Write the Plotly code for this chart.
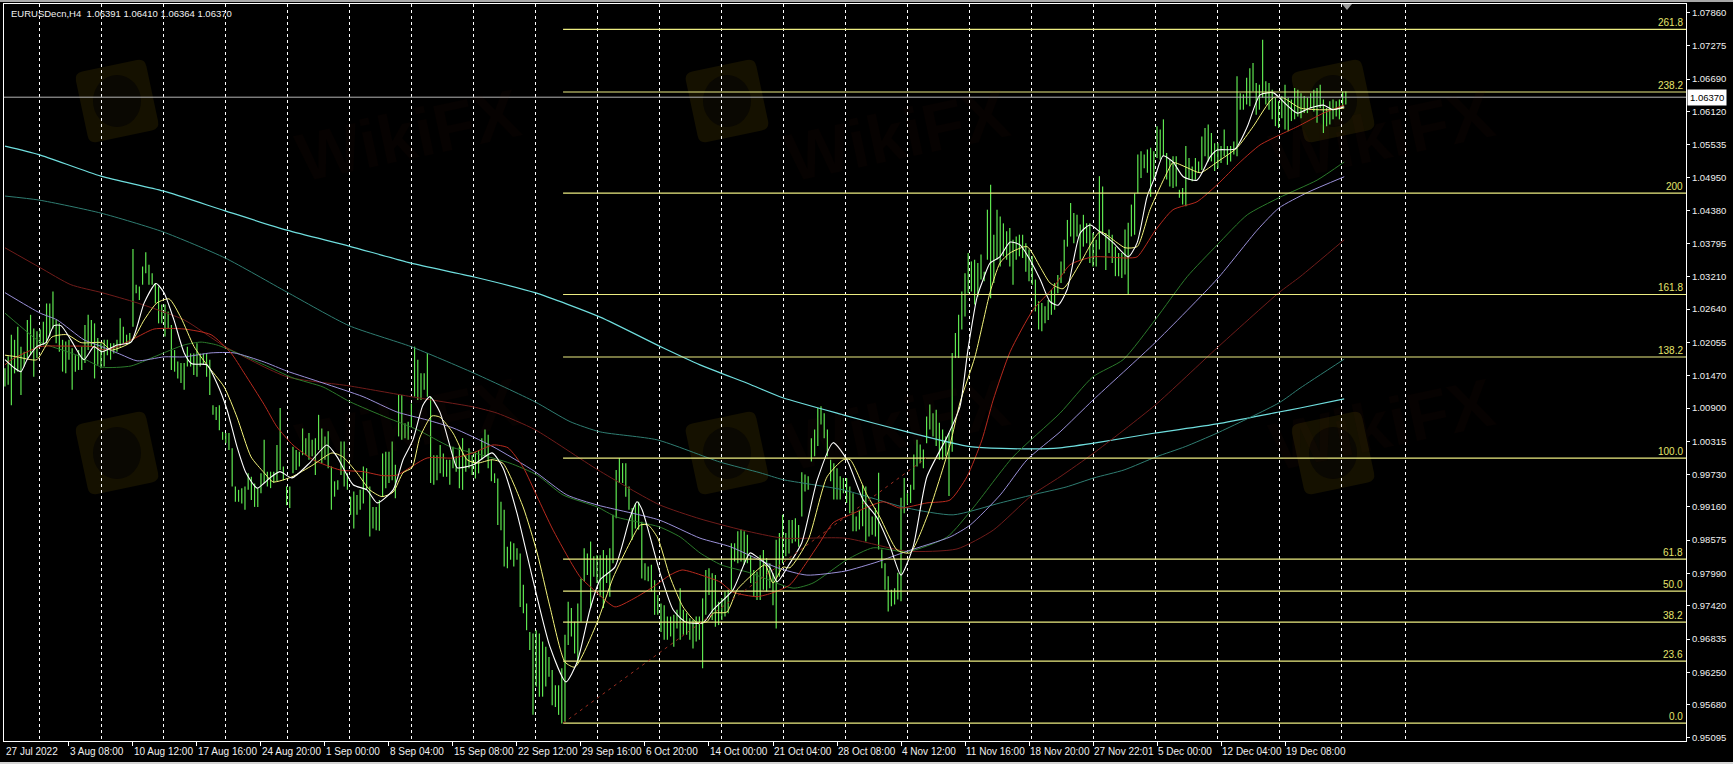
import math
import plotly.graph_objects as go

# EURUSDecn H4 bars
highs = [
    1.0160,1.0181,1.0219,1.0210,1.0233,1.0198,1.0189,1.0245,1.0254,1.0230,
    1.0225,1.0228,1.0242,1.0274,1.0274,1.0295,1.0245,1.0239,1.0210,1.0207,
    1.0210,1.0195,1.0183,1.0192,1.0198,1.0236,1.0254,1.0245,1.0239,1.0213,
    1.0204,1.0210,1.0210,1.0204,1.0204,1.0210,1.0248,1.0233,1.0219,1.0222,
    1.0370,1.0307,1.0304,1.0339,1.0364,1.0342,1.0327,1.0310,1.0304,1.0272,
    1.0272,1.0260,1.0236,1.0192,1.0172,1.0169,1.0169,1.0198,1.0186,1.0186,
    1.0204,1.0186,1.0186,1.0186,1.0175,1.0095,1.0092,1.0095,1.0048,1.0046,
    1.0046,1.0019,0.9952,0.9946,0.9949,0.9952,0.9975,0.9969,0.9957,0.9949,
    0.9975,1.0034,0.9978,0.9978,0.9978,1.0025,1.0090,0.9987,0.9952,0.9952,
    1.0022,1.0016,1.0013,1.0054,1.0037,1.0046,1.0034,1.0037,1.0078,1.0054,
    1.0040,1.0049,0.9987,0.9961,0.9963,1.0031,1.0031,0.9975,0.9934,0.9943,
    0.9937,0.9946,0.9987,0.9984,0.9952,0.9916,0.9916,0.9928,1.0010,1.0013,
    1.0013,1.0031,0.9990,1.0113,1.0113,1.0063,1.0066,1.0098,1.0198,1.0175,
    1.0151,1.0151,1.0187,1.0110,1.0007,1.0007,1.0025,1.0010,0.9999,0.9999,
    1.0022,1.0005,1.0022,1.0037,1.0007,1.0019,1.0007,1.0013,1.0016,1.0037,
    1.0052,1.0043,0.9999,0.9975,0.9966,0.9925,0.9911,0.9846,0.9855,0.9852,
    0.9843,0.9834,0.9779,0.9746,0.9696,0.9693,0.9699,0.9693,0.9679,0.9670,
    0.9652,0.9629,0.9602,0.9602,0.9632,0.9691,0.9749,0.9738,0.9714,0.9746,
    0.9790,0.9843,0.9834,0.9855,0.9829,0.9831,0.9831,0.9840,0.9831,0.9843,
    0.9902,0.9981,1.0002,0.9993,0.9993,0.9952,0.9914,0.9922,0.9925,0.9890,
    0.9817,0.9811,0.9814,0.9787,0.9761,0.9746,0.9743,0.9723,0.9723,0.9726,
    0.9735,0.9773,0.9735,0.9729,0.9720,0.9717,0.9723,0.9723,0.9755,0.9805,
    0.9808,0.9799,0.9796,0.9749,0.9755,0.9767,0.9770,0.9852,0.9852,0.9873,
    0.9876,0.9873,0.9867,0.9831,0.9805,0.9802,0.9831,0.9840,0.9826,0.9817,
    0.9799,0.9858,0.9870,0.9902,0.9870,0.9893,0.9893,0.9896,0.9884,0.9977,
    0.9973,0.9970,1.0037,1.0052,1.0090,1.0093,1.0081,1.0052,0.9999,0.9993,
    0.9984,0.9970,0.9967,0.9967,0.9952,0.9940,0.9899,0.9911,0.9955,0.9952,
    0.9914,0.9899,0.9914,0.9976,0.9841,0.9817,0.9794,0.9770,0.9773,0.9800,
    0.9932,0.9967,0.9940,0.9955,1.0008,1.0034,1.0026,1.0017,1.0075,1.0096,
    1.0081,1.0087,1.0064,1.0052,1.0040,1.0046,1.0187,1.0222,1.0254,1.0295,
    1.0327,1.0363,1.0348,1.0351,1.0345,1.0360,1.0330,1.0439,1.0483,1.0395,
    1.0439,1.0427,1.0415,1.0401,1.0407,1.0386,1.0392,1.0395,1.0395,1.0380,
    1.0369,1.0357,1.0316,1.0278,1.0275,1.0269,1.0280,1.0298,1.0310,1.0324,
    1.0348,1.0386,1.0421,1.0451,1.0433,1.0430,1.0413,1.0430,1.0415,1.0415,
    1.0398,1.0386,1.0498,1.0480,1.0398,1.0404,1.0395,1.0374,1.0363,1.0363,
    1.0404,1.0416,1.0448,1.0468,1.0536,1.0542,1.0536,1.0545,1.0548,1.0542,
    1.0586,1.0580,1.0598,1.0539,1.0527,1.0533,1.0533,1.0474,1.0477,1.0551,
    1.0530,1.0515,1.0530,1.0524,1.0568,1.0583,1.0589,1.0574,1.0556,1.0556,
    1.0551,1.0580,1.0551,1.0551,1.0559,1.0674,1.0644,1.0642,1.0671,1.0688,
    1.0697,1.0662,1.0659,1.0738,1.0665,1.0662,1.0650,1.0636,1.0630,1.0639,
    1.0659,1.0636,1.0633,1.0653,1.0650,1.0644,1.0639,1.0636,1.0644,1.0650,
    1.0653,1.0659,1.0633,1.0618,1.0630,1.0633,1.0630,1.0633,1.0647,1.0647,
]
lows = [
    1.0128,1.0131,1.0095,1.0151,1.0154,1.0113,1.0163,1.0178,1.0183,1.0145,
    1.0178,1.0198,1.0201,1.0204,1.0216,1.0230,1.0204,1.0189,1.0154,1.0151,
    1.0175,1.0122,1.0154,1.0157,1.0157,1.0169,1.0192,1.0198,1.0142,1.0166,
    1.0160,1.0163,1.0183,1.0175,1.0186,1.0189,1.0198,1.0204,1.0201,1.0204,
    1.0233,1.0292,1.0280,1.0307,1.0327,1.0307,1.0307,1.0274,1.0239,1.0239,
    1.0216,1.0230,1.0157,1.0154,1.0142,1.0134,1.0122,1.0163,1.0163,1.0148,
    1.0145,1.0163,1.0166,1.0145,1.0113,1.0078,1.0069,1.0051,1.0034,1.0028,
    1.0016,0.9952,0.9925,0.9925,0.9922,0.9911,0.9946,0.9928,0.9916,0.9916,
    0.9940,0.9958,0.9952,0.9949,0.9958,0.9961,0.9981,0.9963,0.9919,0.9914,
    0.9975,0.9981,0.9987,1.0007,1.0007,0.9999,1.0005,0.9972,1.0016,0.9993,
    0.9999,0.9984,0.9911,0.9934,0.9946,0.9972,0.9952,0.9946,0.9902,0.9878,
    0.9902,0.9911,0.9922,0.9946,0.9864,0.9878,0.9875,0.9874,0.9934,0.9949,
    0.9958,0.9963,0.9931,1.0040,1.0034,1.0037,1.0034,1.0057,1.0110,1.0104,
    1.0104,1.0122,1.0110,0.9958,0.9955,0.9963,0.9975,0.9969,0.9969,0.9955,
    0.9984,0.9978,0.9949,0.9946,0.9978,0.9984,0.9972,0.9966,0.9975,0.9999,
    1.0005,0.9984,0.9961,0.9958,0.9884,0.9875,0.9811,0.9808,0.9823,0.9811,
    0.9823,0.9740,0.9729,0.9699,0.9664,0.9550,0.9600,0.9582,0.9582,0.9600,
    0.9617,0.9567,0.9564,0.9550,0.9535,0.9538,0.9673,0.9688,0.9658,0.9641,
    0.9714,0.9785,0.9796,0.9738,0.9793,0.9782,0.9758,0.9738,0.9782,0.9758,
    0.9817,0.9896,0.9958,0.9958,0.9934,0.9911,0.9858,0.9878,0.9876,0.9790,
    0.9787,0.9785,0.9767,0.9726,0.9726,0.9696,0.9682,0.9682,0.9688,0.9670,
    0.9702,0.9682,0.9691,0.9691,0.9682,0.9667,0.9679,0.9682,0.9632,0.9726,
    0.9761,0.9717,0.9705,0.9708,0.9717,0.9723,0.9729,0.9770,0.9820,0.9817,
    0.9820,0.9814,0.9817,0.9782,0.9758,0.9752,0.9752,0.9770,0.9767,0.9773,
    0.9743,0.9702,0.9793,0.9817,0.9829,0.9834,0.9852,0.9855,0.9846,0.9899,
    0.9943,0.9946,0.9996,1.0005,1.0023,1.0061,1.0037,1.0005,0.9961,0.9929,
    0.9929,0.9929,0.9940,0.9923,0.9905,0.9873,0.9873,0.9876,0.9882,0.9855,
    0.9864,0.9867,0.9864,0.9841,0.9808,0.9770,0.9732,0.9741,0.9744,0.9753,
    0.9750,0.9905,0.9920,0.9923,0.9946,0.9987,0.9993,0.9984,1.0028,1.0052,
    1.0040,1.0023,0.9999,0.9999,1.0005,0.9935,1.0013,1.0178,1.0178,1.0228,
    1.0251,1.0292,1.0295,1.0272,1.0286,1.0316,1.0313,1.0351,1.0283,1.0310,
    1.0351,1.0339,1.0357,1.0351,1.0339,1.0307,1.0351,1.0357,1.0354,1.0330,
    1.0313,1.0307,1.0260,1.0228,1.0225,1.0239,1.0245,1.0254,1.0263,1.0292,
    1.0310,1.0327,1.0374,1.0392,1.0380,1.0392,1.0351,1.0374,1.0380,1.0345,
    1.0339,1.0339,1.0369,1.0395,1.0333,1.0363,1.0345,1.0322,1.0322,1.0319,
    1.0325,1.0289,1.0392,1.0395,1.0468,1.0495,1.0512,1.0504,1.0462,1.0492,
    1.0530,1.0527,1.0533,1.0492,1.0480,1.0477,1.0480,1.0460,1.0448,1.0445,
    1.0492,1.0489,1.0492,1.0504,1.0509,1.0533,1.0524,1.0524,1.0507,1.0512,
    1.0521,1.0533,1.0518,1.0524,1.0536,1.0533,1.0615,1.0615,1.0624,1.0621,
    1.0647,1.0606,1.0615,1.0636,1.0624,1.0615,1.0598,1.0586,1.0583,1.0600,
    1.0580,1.0577,1.0595,1.0598,1.0603,1.0600,1.0609,1.0609,1.0618,1.0612,
    1.0592,1.0618,1.0574,1.0586,1.0589,1.0598,1.0603,1.0598,1.0618,1.0624,
]

# moving averages, each read at its own bar numbers
cyan_x = [0,10.6,30,49.4,68.8,88.1,107.5,126.9,146.3,165.6,186,205.6,217.2,233.1,243.1,261.9,281.9,301.6,321,329.7,342.2,359.4,378.8,398.1,404.7,418.5]
cyan_y = [1.0551,1.0536,1.0498,1.0472,1.0437,1.0403,1.0375,1.0345,1.0321,1.0293,1.0250,1.0196,1.0166,1.0131,1.0108,1.0078,1.0048,1.0022,1.0018,1.0020,1.0030,1.0046,1.0062,1.0083,1.0090,1.0106]

teal_x = [0,10.6,30,49.4,68.8,88.1,107.5,126.9,146.3,165.6,176.6,186,203.8,223.4,236,243.1,261.9,281.9,296.3,311,321,331.6,340.3,349.7,359.7,368.8,378.8,398.1,404.7,418.5]
teal_y = [1.0463,1.0456,1.0433,1.0400,1.0354,1.0294,1.0235,1.0198,1.0152,1.0101,1.0066,1.0048,1.0034,0.9995,0.9976,0.9964,0.9946,0.9914,0.9902,0.9923,0.9937,0.9951,0.9967,0.9981,1.0004,1.0022,1.0046,1.0099,1.0125,1.0176]

darkred_x = [0,11,20.6,30.3,41.3,56,68.8,88.1,107.5,126.9,146.3,153.8,165.6,185.3,204.4,217.2,230.6,243.1,262.5,281.9,297.5,308.8,321,329.7,340.3,359.4,378.8,398.1,404.7,418.5]
darkred_y = [1.0372,1.0337,1.0307,1.0293,1.0275,1.0245,1.0198,1.0145,1.0129,1.0110,1.0092,1.0081,1.0052,0.9981,0.9920,0.9895,0.9875,0.9861,0.9861,0.9838,0.9842,0.9875,0.9937,0.9969,1.0011,1.0095,1.0196,1.0293,1.0321,1.0386]

green_x = [0,6.9,11,22.5,30.3,39.4,46.6,56,61.3,66.2,72.5,81,90,99.4,107.8,119.4,128.8,139.1,148.5,157.8,166.3,174.4,185,191.2,204.4,211,217.2,223.8,232.8,246.3,252.5,263.1,271.3,281.9,294.4,302.5,315,329.7,340,349.4,359.4,369.4,378.8,388.2,398.1,410,418.5]
green_y = [1.0257,1.0224,1.0206,1.0183,1.0162,1.0164,1.0180,1.0201,1.0206,1.0201,1.0187,1.0166,1.0143,1.0127,1.0101,1.0073,1.0052,1.0022,1.0008,0.9993,0.9972,0.9937,0.9916,0.9898,0.9881,0.9863,0.9835,0.9814,0.9800,0.9773,0.9782,0.9823,0.9844,0.9837,0.9863,0.9914,1.0004,1.0081,1.0145,1.0175,1.0245,1.0321,1.0377,1.0430,1.0460,1.0491,1.0523]

lavender_x = [0,11,16.3,24.7,30.3,36.3,41.3,49.7,56,64.4,71.6,81,88.1,99.4,111.9,122.5,131.9,140,152.5,165.6,175.6,185.3,204.4,217.2,226.6,241.3,250.6,262.5,272.5,281.9,295.3,301.6,311,319.4,329.7,340,359.4,378.8,391.3,398.1,406.9,418.5]
lavender_y = [1.0293,1.0257,1.0245,1.0210,1.0198,1.0184,1.0173,1.0180,1.0180,1.0187,1.0187,1.0171,1.0155,1.0134,1.0110,1.0083,1.0069,1.0055,1.0022,0.9978,0.9937,0.9919,0.9893,0.9861,0.9846,0.9809,0.9796,0.9803,0.9819,0.9838,0.9863,0.9884,0.9937,0.9999,1.0048,1.0104,1.0205,1.0317,1.0403,1.0442,1.0469,1.0497]

red_x = [0,2,11,18.5,27.8,31,35,41.3,46.6,56,64.4,70.6,74.7,81,85,90,96.3,104.7,111.9,118.1,122.5,131.9,140,146.3,152.5,157.2,161.9,166.3,171.3,179.7,185,190.6,196.3,202.5,207.8,211.6,218.1,223.4,227.5,235,240,245.3,253.8,258.8,264.1,274.4,279.7,288.1,295.3,300.6,305.3,308.8,314.1,321.3,327.5,332.8,340,350.6,353.8,359.4,365,372.5,378.8,386,392.2,398.5,403.8,412,418.5]
red_y = [1.0166,1.0175,1.0198,1.0199,1.0198,1.0192,1.0198,1.0215,1.0229,1.0229,1.0219,1.0187,1.0152,1.0096,1.0057,1.0025,0.9999,0.9981,0.9978,0.9971,0.9972,1.0002,1.0002,1.0011,1.0025,1.0020,0.9986,0.9934,0.9875,0.9793,0.9765,0.9740,0.9754,0.9775,0.9796,0.9805,0.9795,0.9784,0.9766,0.9758,0.9765,0.9779,0.9846,0.9888,0.9902,0.9925,0.9914,0.9923,0.9928,0.9969,1.0034,1.0104,1.0189,1.0263,1.0301,1.0342,1.0356,1.0354,1.0356,1.0402,1.0439,1.0453,1.0483,1.0523,1.0553,1.0571,1.0585,1.0609,1.0623]

white_x = [0,2.8,5,6.9,10,12.8,15.3,17.5,20.6,24.7,27.8,30.3,35,39.4,43.5,47.2,49.7,52.8,56,58.4,63.1,66.2,69.4,72.5,75.3,78.8,81,82.8,85.9,89.7,95.3,100.6,103.8,108.8,113.1,116.3,121.3,124.4,127.5,130.6,132.8,135.9,140,141.3,146.3,152.2,155.6,160,165,170.3,175.3,178.8,182.8,186,190.6,195.3,197.5,199.1,204.7,208.8,212.5,218.1,221.3,227.5,232.8,235,239,241.3,245.3,249,253.8,258.8,263.1,268.2,272.5,276.6,280,283.8,288.1,294.4,298.4,300.9,303.8,305.6,307.8,310.9,314.1,317.2,320.3,323.5,326.6,329.1,331.9,336,339.1,342.2,346.3,351,353.8,356.9,359.4,361.9,365,368.2,372.5,376.6,378.8,384.4,388.2,392.2,396.3,400.6,403.8,407.8,412,415,418.5]
white_y = [1.0175,1.0161,1.0154,1.0175,1.0198,1.0205,1.0235,1.0235,1.0210,1.0175,1.0198,1.0189,1.0201,1.0206,1.0275,1.0309,1.0293,1.0245,1.0187,1.0168,1.0166,1.0134,1.0087,1.0022,0.9976,0.9949,0.9958,0.9967,0.9978,0.9967,0.9994,1.0025,1.0004,0.9955,0.9946,0.9923,0.9946,0.9999,1.0034,1.0095,1.0110,1.0083,1.0004,0.9985,0.9990,1.0011,0.9985,0.9905,0.9787,0.9670,0.9608,0.9643,0.9735,0.9788,0.9810,0.9897,0.9925,0.9911,0.9800,0.9735,0.9714,0.9712,0.9735,0.9770,0.9835,0.9828,0.9809,0.9784,0.9817,0.9853,0.9963,1.0029,0.9999,0.9928,0.9897,0.9846,0.9796,0.9846,0.9969,1.0039,1.0092,1.0192,1.0286,1.0315,1.0345,1.0356,1.0382,1.0377,1.0351,1.0316,1.0277,1.0271,1.0298,1.0398,1.0412,1.0400,1.0381,1.0356,1.0381,1.0462,1.0497,1.0534,1.0523,1.0497,1.0491,1.0532,1.0544,1.0546,1.0585,1.0641,1.0645,1.0623,1.0609,1.0618,1.0623,1.0615,1.0620]

yellow_x = [0,3.8,8.1,10,14.7,19.4,23.8,30.3,33.2,39.4,43.5,47.5,51.3,55,59.1,63.1,68.5,72.5,76.9,81,83.8,89.7,96.3,102.2,105.6,110,114,117.8,121.3,124.4,127.2,129.7,133.4,135.9,140,144.4,147.6,152.2,155.6,161.9,166.3,170.3,175,178.1,185,190,195.3,198.5,201,204,207.8,211.9,216.3,219.4,221.3,225.6,228.8,232.8,237.5,240,243.1,245.3,251,256.9,262,264.1,269.4,273.4,278.8,282.8,288.1,295.3,298.4,303.1,307.8,310.9,314.1,319.4,323.5,326.6,330.6,336,342.2,347.5,350,353.8,357.8,363.1,365,369.4,373.5,378.8,385,390,396.3,399.4,404.7,410,414,418.5]
yellow_y = [1.0183,1.0180,1.0175,1.0175,1.0215,1.0219,1.0205,1.0205,1.0192,1.0206,1.0245,1.0275,1.0282,1.0249,1.0198,1.0166,1.0127,1.0074,1.0004,0.9976,0.9960,0.9969,0.9990,1.0011,1.0004,0.9976,0.9946,0.9934,0.9942,0.9976,0.9985,1.0039,1.0076,1.0074,1.0046,0.9999,0.9993,0.9999,0.9993,0.9916,0.9835,0.9740,0.9643,0.9634,0.9712,0.9791,0.9853,0.9884,0.9884,0.9861,0.9793,0.9740,0.9712,0.9714,0.9729,0.9731,0.9770,0.9793,0.9814,0.9782,0.9810,0.9809,0.9858,0.9969,0.9999,0.9999,0.9937,0.9898,0.9840,0.9835,0.9898,1.0025,1.0099,1.0180,1.0293,1.0345,1.0363,1.0374,1.0338,1.0310,1.0300,1.0345,1.0400,1.0381,1.0372,1.0374,1.0439,1.0504,1.0522,1.0513,1.0504,1.0523,1.0548,1.0585,1.0636,1.0636,1.0618,1.0615,1.0615,1.0618]

# fibonacci retracement
fib_labels = ["0.0","23.6","38.2","50.0","61.8","100.0","138.2","161.8","200","238.2","261.8"]
fib_levels = [0.95354,0.96445,0.97132,0.97677,0.98240,1.00017,1.01798,1.02898,1.04680,1.06461,1.07562]
fib_start = 174.4
fib_end = 287.8

last_price = 1.06370
header = "EURUSDecn,H4&nbsp; 1.06391 1.06410 1.06364 1.06370"

price_ticks = [1.07860,1.07275,1.06690,1.06120,1.05535,1.04950,1.04380,1.03795,1.03210,1.02640,1.02055,1.01470,1.00900,1.00315,0.99730,0.99160,0.98575,0.97990,0.97420,0.96835,0.96250,0.95680,0.95095]

date_bars = [0,20,40,60,80,100,120,140,160,180,200,220,240,260,280,300,320,340,360,380,400]
date_labels = ["27 Jul 2022","3 Aug 08:00","10 Aug 12:00","17 Aug 16:00","24 Aug 20:00","1 Sep 00:00","8 Sep 04:00","15 Sep 08:00",
               "22 Sep 12:00","29 Sep 16:00","6 Oct 20:00","14 Oct 00:00","21 Oct 04:00","28 Oct 08:00","4 Nov 12:00","11 Nov 16:00",
               "18 Nov 20:00","27 Nov 22:01","5 Dec 00:00","12 Dec 04:00","19 Dec 08:00"]
grid_bars = [10.8,30.1,49.5,68.9,88.3,107.6,127,146.4,165.8,185.1,204.5,223.9,243.3,262.6,282,301.4,320.8,340.1,359.5,378.9,398.3,417.6,437.6]

FONT = "Liberation Sans, Arial"
L, R, T, B = 4, 47, 4, 23
PW, PH = 1733 - L - R, 764 - T - B
X_RANGE = [-0.3, 525.3]
Y_RANGE = [0.9504, 1.0801]


def px(x):
    return (x - L) / PW


def py(y):
    return 1 - (y - T) / PH


fig = go.Figure()

# bars as plain high-low sticks
bx, by = [], []
for i, (h, l) in enumerate(zip(highs, lows)):
    bx += [i, i, None]
    by += [l, h, None]
fig.add_trace(go.Scatter(x=bx, y=by, mode="lines", line=dict(color="#5ee650", width=1.2), hoverinfo="skip"))

ma_lines = [
    (cyan_x, cyan_y, "#6fdede", 1.2),
    (teal_x, teal_y, "#2f7d72", 1),
    (darkred_x, darkred_y, "#701c1a", 1),
    (green_x, green_y, "#2b7a2b", 1),
    (lavender_x, lavender_y, "#9a90d8", 1),
    (red_x, red_y, "#b82a1e", 1),
    (yellow_x, yellow_y, "#f4f47c", 1),
    (white_x, white_y, "#ffffff", 1.1),
]
for xs, ys, col, w in ma_lines:
    fig.add_trace(go.Scatter(x=xs, y=ys, mode="lines", line=dict(color=col, width=w, shape="spline", smoothing=0.6), hoverinfo="skip"))

fig.add_trace(go.Scatter(x=X_RANGE, y=[last_price, last_price], mode="lines", line=dict(color="#b4b4b4", width=1), hoverinfo="skip"))
for lv in fib_levels:
    fig.add_trace(go.Scatter(x=[fib_start, X_RANGE[1]], y=[lv, lv], mode="lines", line=dict(color="#ecec82", width=1.2), hoverinfo="skip"))

# x2 only carries the date tick marks, so it needs one trace
fig.add_trace(go.Scatter(x=[fib_start, fib_end], y=[fib_levels[0], fib_levels[5]], xaxis="x2", mode="lines",
                         line=dict(color="#9a2e20", width=1, dash="3px,4px"), hoverinfo="skip"))

annotations = [dict(xref="paper", yref="paper", x=px(9), y=py(6), text=header, showarrow=False, xanchor="left", yanchor="top",
                    font=dict(family=FONT, size=9.5, color="#f0f0f0"))]
for lab, lv in zip(fib_labels, fib_levels):
    annotations.append(dict(xref="paper", yref="y", x=1, y=lv, text=lab, showarrow=False, xanchor="right", yanchor="bottom",
                            xshift=-1, yshift=-1, font=dict(family=FONT, size=10, color="#e4e46c")))
for b, lab in zip(date_bars, date_labels):
    annotations.append(dict(xref="x", yref="paper", x=b, y=0, text=lab, showarrow=False, xanchor="left", yanchor="top",
                            yshift=-3, xshift=-1, font=dict(family=FONT, size=10, color="#f0f0f0")))
annotations.append(dict(xref="paper", yref="y", x=1, y=last_price, text="1.06370", showarrow=False, xanchor="left", xshift=1,
                        bgcolor="#ffffff", font=dict(family=FONT, size=9.5, color="#000000"), borderpad=2))

shapes = [
    dict(type="rect", xref="paper", yref="paper", x0=px(0), x1=px(1733), y0=py(0), y1=py(2), fillcolor="#a8a8a8", line_width=0),
    dict(type="rect", xref="paper", yref="paper", x0=px(0), x1=px(1733), y0=py(762), y1=py(764), fillcolor="#d4d4d4", line_width=0),
    dict(type="path", xref="paper", yref="paper",
         path=f"M {px(1342)} {py(4)} L {px(1352)} {py(4)} L {px(1347)} {py(10)} Z", fillcolor="#9a9a9a", line_width=0),
]


def rot(cx, cy, dx, dy, deg=-12):
    a = math.radians(deg)
    return px(cx + dx * math.cos(a) - dy * math.sin(a)), py(cy + dx * math.sin(a) + dy * math.cos(a))


# WikiFX watermark, faint on the black background
for cy in [101, 453]:
    for cx in [117, 727, 1333]:
        s, r = 36, 8
        pts = [(-s, -s + r), (-s + r, -s), (s - r, -s), (s, -s + r), (s, s - r), (s - r, s), (-s + r, s), (-s, s - r)]
        ctrl = {1: (-s, -s), 3: (s, -s), 5: (s, s), 7: (-s, s)}
        path = "M {} {}".format(*rot(cx, cy, *pts[0]))
        for k in range(1, 8):
            if k in ctrl:
                path += " Q {} {} {} {}".format(*rot(cx, cy, *ctrl[k]), *rot(cx, cy, *pts[k]))
            else:
                path += " L {} {}".format(*rot(cx, cy, *pts[k]))
        path += " Q {} {} {} {} Z".format(*rot(cx, cy, -s, s), *rot(cx, cy, *pts[0]))
        shapes.append(dict(type="path", xref="paper", yref="paper", path=path, fillcolor="#151100", line_width=0, layer="below"))
        shapes.append(dict(type="circle", xref="paper", yref="paper", x0=px(cx - 24), x1=px(cx + 24), y0=py(cy - 26), y1=py(cy + 26),
                           fillcolor="#0a0802", line_width=0, layer="below"))
        annotations.append(dict(xref="paper", yref="paper", x=px(cx + 170), y=py(cy - 29), text="<b>WikiFX</b>", showarrow=False,
                                textangle=-12, font=dict(family="Liberation Sans", size=68, color="rgba(110,40,20,0.05)")))

fig.update_layout(
    width=1733, height=764, autosize=False,
    margin=dict(l=L, r=R, t=T, b=B),
    paper_bgcolor="#000000", plot_bgcolor="#000000",
    showlegend=False,
    font=dict(family=FONT, color="#f0f0f0", size=10),
    annotations=annotations, shapes=shapes,
    xaxis=dict(range=X_RANGE, tickmode="array", tickvals=grid_bars, showticklabels=False, ticks="",
               showgrid=True, gridcolor="#ffffff", griddash="3px,3px", gridwidth=1, zeroline=False,
               showline=True, linecolor="#ffffff", linewidth=1, mirror=True),
    xaxis2=dict(range=X_RANGE, overlaying="x", anchor="y", side="bottom", tickmode="array", tickvals=date_bars[1:],
                showticklabels=False, ticks="outside", ticklen=4, tickcolor="#ffffff", showgrid=False, zeroline=False),
    yaxis=dict(range=Y_RANGE, side="right", tickmode="array", tickvals=price_ticks,
               ticktext=[f"{v:.5f}" for v in price_ticks], ticks="outside", ticklen=3, tickcolor="#ffffff",
               showgrid=False, zeroline=False, showline=True, linecolor="#ffffff", linewidth=1, mirror=True,
               tickfont=dict(family=FONT, size=9.5, color="#f0f0f0")),
)

# page margin would push the fixed-size chart off the window
fig.write_html("out.html", config={"displayModeBar": False},
               post_script="document.body.style.margin='0';document.body.style.background='#000';")
